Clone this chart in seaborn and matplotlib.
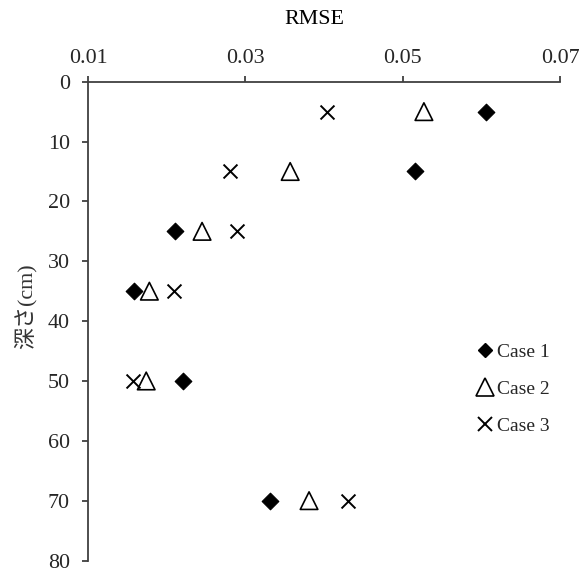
import matplotlib
matplotlib.use("Agg")
import matplotlib.pyplot as plt
import seaborn as sns
import pandas as pd
from matplotlib.lines import Line2D

depth = [5, 15, 25, 35, 50, 70]
case1 = [0.0606, 0.0516, 0.0210, 0.0159, 0.0221, 0.0331]
case2 = [0.0527, 0.0357, 0.0245, 0.0178, 0.0174, 0.0381]
case3 = [0.0404, 0.0280, 0.0289, 0.0209, 0.0157, 0.0431]
labels = ["Case 1", "Case 2", "Case 3"]
xticks = [0.01, 0.03, 0.05, 0.07]
yticks = [0, 10, 20, 30, 40, 50, 60, 70, 80]

sns.set_theme(style="white")
plt.rcParams['font.family'] = ['Liberation Serif', 'Noto Sans CJK JP', 'DejaVu Sans']

top_px, bot_px, left_px, right_px = 81.7, 560.5, 88, 560
fig = plt.figure(figsize=(5.88, 5.71), dpi=100)
ax = fig.add_axes([left_px / 588, (571 - bot_px) / 571,
                   (right_px - left_px) / 588, (bot_px - top_px) / 571])

df1 = pd.DataFrame({"x": case1, "y": depth})
df2 = pd.DataFrame({"x": case2, "y": depth})
df3 = pd.DataFrame({"x": case3, "y": depth})

sns.scatterplot(data=df1, x="x", y="y", marker="D", s=72, color="black",
                edgecolor="black", linewidth=0.8, ax=ax, legend=False, zorder=3)
sns.scatterplot(data=df2, x="x", y="y", marker="^", s=160, color="black",
                facecolor="none", edgecolor="black", linewidth=1.2, ax=ax, legend=False, zorder=3)
sns.scatterplot(data=df3, x="x", y="y", marker="x", s=100, color="black",
                linewidth=1.4, ax=ax, legend=False, zorder=3)

ax.set_xlim(0.01, 0.07)
ax.set_ylim(80, 0)
ax.xaxis.tick_top()
ax.xaxis.set_label_position("top")
ax.set_xticks(xticks)
ax.set_xticklabels([f"{v:.2f}" for v in xticks])
ax.set_yticks(yticks)
ax.set_yticklabels([str(v) for v in yticks])

for side in ["right", "bottom"]:
    ax.spines[side].set_visible(False)
for side in ["left", "top"]:
    ax.spines[side].set_visible(True)
    ax.spines[side].set_color("#404040")
    ax.spines[side].set_linewidth(1.3)

ax.tick_params(axis="x", which="major", direction="out", length=4, width=1.3,
               color="#404040", labelsize=15.8, pad=6, top=True, bottom=False)
ax.tick_params(axis="y", which="major", direction="out", length=4, width=1.3,
               color="#404040", labelsize=15.8, pad=9, left=True)
ax.grid(False)

ax.set_xlabel("RMSE", fontsize=15.8, color="black")
ax.xaxis.set_label_coords((314 - left_px) / (right_px - left_px),
                          1 + (top_px - 20) / (bot_px - top_px))
ax.xaxis.label.set_va("center")
ax.set_ylabel("深さ(cm)", fontsize=15.8, color="#333333")
ax.yaxis.set_label_coords(-(left_px - 25) / (right_px - left_px),
                          1 - (306 - top_px) / (bot_px - top_px))
ax.yaxis.label.set_va("center")

handles = [
    Line2D([], [], linestyle="none", marker="D", markersize=7, color="black"),
    Line2D([], [], linestyle="none", marker="^", markersize=12.5, markerfacecolor="none",
           markeredgecolor="black", markeredgewidth=1.2),
    Line2D([], [], linestyle="none", marker="x", markersize=10, color="black",
           markeredgewidth=1.4),
]
leg = fig.legend(handles, labels, loc="center left",
                 bbox_to_anchor=(475 / 588, 1 - 389 / 571), bbox_transform=fig.transFigure,
                 frameon=False, fontsize=14, handlelength=1.0, handletextpad=0.15,
                 borderpad=0, borderaxespad=0, labelspacing=1.0)

fig.savefig("out.png", dpi=100)
